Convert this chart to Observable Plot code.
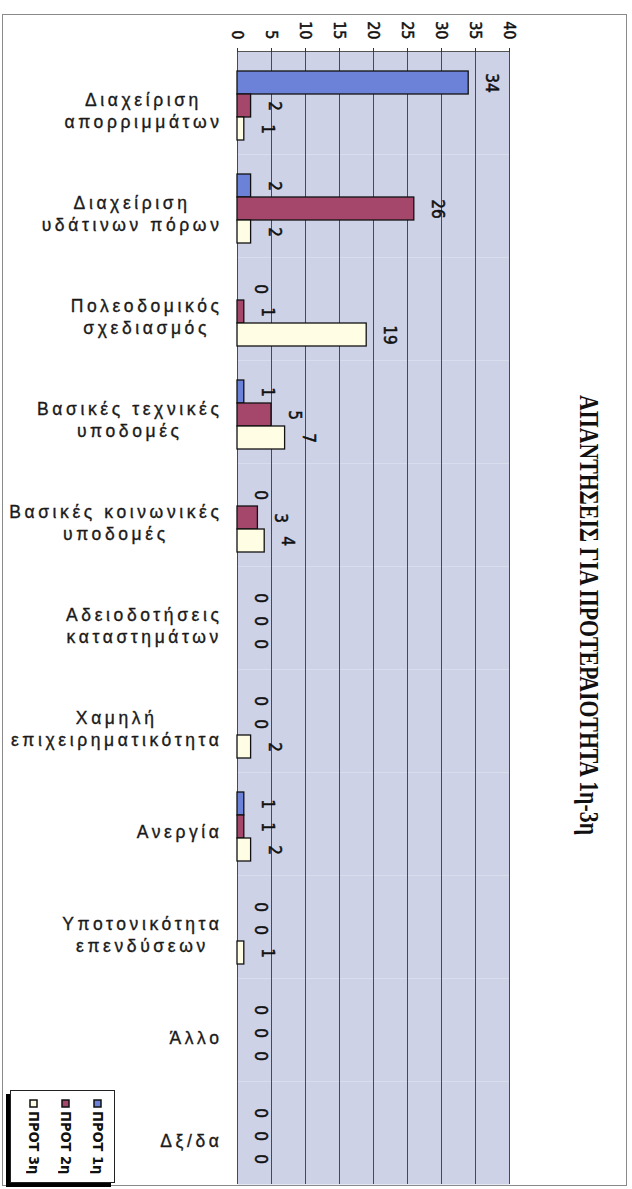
<!DOCTYPE html>
<html>
<head>
<meta charset="utf-8">
<script src="https://cdn.jsdelivr.net/npm/d3@7"></script>
<script src="https://cdn.jsdelivr.net/npm/@observablehq/plot@0.6"></script>
<style>
  html, body { margin: 0; padding: 0; background: #fff; }
  #wrap { position: relative; width: 632px; height: 1189px; overflow: hidden; background: #fff; }
  #chart { position: absolute; left: 0; top: 0; }
  #border { position: absolute; left: 2px; top: 14px; width: 623px; height: 1170px; border: 1px solid #8a8a8a; pointer-events: none; }
  #title { position: absolute; left: 0; top: 0; pointer-events: none; }
  #chart g[aria-label="fy-axis tick label"] { letter-spacing: 3.6px; stroke: #1a1a1a; stroke-width: 0.35px; }
  #chart g[aria-label="x-axis tick label"] text, #chart g[aria-label="text"] text { stroke: #111; stroke-width: 0.5px; }
  .lgbox { position: absolute; left: 115px; top: 1090px; width: 93px; height: 105px; box-sizing: border-box;
           transform-origin: 0 0; transform: rotate(90deg); background: #fff; border: 1px solid #222;
           box-shadow: 4px 4px 0 #000; }
  .lgbox .lg-swatches { margin: 0 !important; padding: 0 !important; min-height: 0 !important; columns: 1 !important; }
  .lgbox .lg-swatch { height: 32px; margin: 0 !important; padding: 0 0 0 9px !important; display: flex !important; align-items: center; }
  .lgbox .lg-swatch svg { stroke: #111; stroke-width: 1.5px; overflow: visible; margin-right: 4px !important; }
  .lgbox .lg-swatch, .lgbox .lg-swatch span { font: bold 14.5px "DejaVu Sans Condensed", "DejaVu Sans", sans-serif !important; color: #111; overflow: visible !important; max-width: none !important; }
</style>
</head>
<body>
<div id="wrap">
  <div id="chart"></div>
  <div id="border"></div>
</div>
<script>
const categories = [
  "Διαχείριση\nαπορριμμάτων",
  "Διαχείριση\nυδάτινων πόρων",
  "Πολεοδομικός\nσχεδιασμός",
  "Βασικές τεχνικές\nυποδομές",
  "Βασικές κοινωνικές\nυποδομές",
  "Αδειοδοτήσεις\nκαταστημάτων",
  "Χαμηλή\nεπιχειρηματικότητα",
  "Ανεργία",
  "Υποτονικότητα\nεπενδύσεων",
  "Άλλο",
  "Δξ/δα"
];
const series = ["ΠΡΟΤ 1η", "ΠΡΟΤ 2η", "ΠΡΟΤ 3η"];
const prot1 = [34, 2, 0, 1, 0, 0, 0, 1, 0, 0, 0];
const prot2 = [2, 26, 1, 5, 3, 0, 0, 1, 0, 0, 0];
const prot3 = [1, 2, 19, 7, 4, 0, 2, 2, 1, 0, 0];
const xTicks = [0, 5, 10, 15, 20, 25, 30, 35, 40];
const colors = ["#6c82d8", "#a5466b", "#fffde3"];
const titleText = "ΑΠΑΝΤΗΣΕΙΣ ΓΙΑ ΠΡΟΤΕΡΑΙΟΤΗΤΑ 1η-3η";

const valuesBySeries = [prot1, prot2, prot3];
const data = categories.flatMap((c, i) =>
  series.map((s, j) => ({category: c, series: s, value: valuesBySeries[j][i]})));

const numFont = "DejaVu Sans Condensed, DejaVu Sans, sans-serif";

const chart = Plot.plot({
  width: 632,
  height: 1189,
  marginLeft: 237,
  marginRight: 123,
  marginTop: 50,
  marginBottom: 4,
  style: {fontFamily: "Liberation Sans, Arial, sans-serif", background: "transparent", color: "#111"},
  x: {domain: [0, 40]},
  fy: {domain: categories, padding: 0},
  y: {domain: series, paddingInner: 0, paddingOuter: 0.7, align: 0.6, axis: null},
  color: {domain: series, range: colors},
  marks: [
    Plot.frame({fill: "#cdd2e7"}),
    Plot.gridX({ticks: xTicks, stroke: "#4a4a4a", strokeOpacity: 1, strokeWidth: 1}),
    Plot.frame({anchor: "top", stroke: "#555", facetAnchor: "top"}),
    Plot.barX(data, {fy: "category", y: "series", x: "value", fill: "series", stroke: "#111", strokeWidth: 1.3}),
    Plot.text(data, {fy: "category", y: "series", x: "value", text: d => String(d.value),
      rotate: 90, dx: 23, fontSize: 17, fontFamily: numFont, fill: "#111"}),
    Plot.axisX({anchor: "top", ticks: xTicks, tickRotate: 90, tickSize: 4, tickPadding: 8,
      fontSize: 16, fontFamily: numFont, label: null, stroke: "#333"}),
    Plot.axisFy({anchor: "left", tickSize: 0, tickPadding: 15, fontSize: 17.5, lineHeight: 1.25,
      dy: 7, label: null, fill: "#1a1a1a"})
  ]
});
document.getElementById("chart").append(chart);

// Excel-like label block: lines centred, block right-aligned
chart.querySelectorAll('g[aria-label="fy-axis tick label"] text').forEach(t => {
  const w = t.getBBox().width;
  t.setAttribute("text-anchor", "middle");
  const g = document.createElementNS("http://www.w3.org/2000/svg", "g");
  g.setAttribute("transform", `translate(${-w / 2},0)`);
  t.parentNode.insertBefore(g, t);
  g.appendChild(t);
});

// Legend (rotated like the rest of the original chart)
const legend = Plot.legend({
  color: {domain: series, range: colors},
  legend: "swatches", columns: 1, swatchSize: 7, className: "lg"
});
const box = document.createElement("div");
box.className = "lgbox";
box.append(legend);
document.getElementById("wrap").append(box);

// Rotated title on the right
const tsvg = d3.create("svg").attr("id", "title").attr("width", 632).attr("height", 1189);
tsvg.append("text")
  .attr("transform", "translate(589,615) rotate(90)")
  .attr("text-anchor", "middle")
  .attr("dominant-baseline", "central")
  .attr("textLength", 440)
  .attr("lengthAdjust", "spacingAndGlyphs")
  .attr("font-family", "Liberation Serif, Times New Roman, serif")
  .attr("font-weight", "bold")
  .attr("font-size", 28)
  .attr("fill", "#111")
  .text(titleText);
document.getElementById("wrap").append(tsvg.node());
</script>
</body>
</html>
